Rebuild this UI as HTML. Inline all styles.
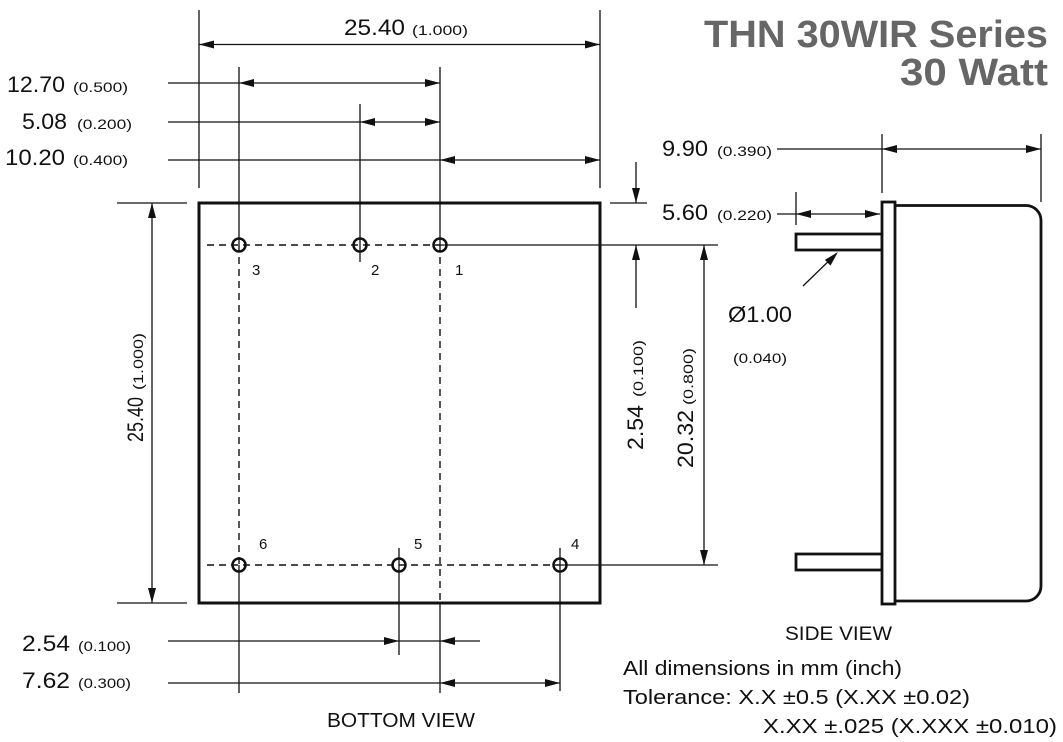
<!DOCTYPE html>
<html>
<head>
<meta charset="utf-8">
<style>
html,body{margin:0;padding:0;background:#fff;}
svg{display:block;}
text{font-family:"Liberation Sans",Arial,sans-serif;fill:#111;}
</style>
</head>
<body>
<svg width="1063" height="742" viewBox="0 0 1063 742" xmlns="http://www.w3.org/2000/svg">
<g stroke="#111" stroke-width="1.3" fill="none">
  <!-- top extension lines -->
  <line x1="199" y1="10" x2="199" y2="188"/>
  <line x1="600" y1="10" x2="600" y2="188"/>
  <!-- 25.40 top -->
  <line x1="199" y1="44.5" x2="600" y2="44.5"/>
  <!-- pin vertical lines top -->
  <line x1="239" y1="67" x2="239" y2="245"/>
  <line x1="360" y1="104" x2="360" y2="262"/>
  <line x1="440" y1="67" x2="440" y2="245"/>
  <!-- horizontal dims -->
  <line x1="168" y1="83" x2="440" y2="83"/>
  <line x1="168" y1="122" x2="440" y2="122"/>
  <line x1="168" y1="160" x2="600" y2="160"/>
  <!-- left dim -->
  <line x1="117" y1="203" x2="187" y2="203"/>
  <line x1="117" y1="603" x2="187" y2="603"/>
  <line x1="152" y1="203" x2="152" y2="603"/>
  <!-- dashed lines -->
  <g stroke-dasharray="7,5" stroke-width="1.4">
    <line x1="207" y1="245" x2="440" y2="245"/>
    <line x1="207" y1="565" x2="560" y2="565"/>
    <line x1="239" y1="245" x2="239" y2="565"/>
    <line x1="440" y1="245" x2="440" y2="603"/>
  </g>
  <!-- solid continuation lines -->
  <line x1="440" y1="245" x2="718" y2="245"/>
  <line x1="560" y1="565" x2="718" y2="565"/>
  <line x1="239" y1="565" x2="239" y2="693"/>
  <line x1="440" y1="603" x2="440" y2="693"/>
  <line x1="399" y1="548" x2="399" y2="655"/>
  <line x1="560" y1="548" x2="560" y2="691"/>
  <!-- bottom dims -->
  <line x1="168" y1="641" x2="480" y2="641"/>
  <line x1="168" y1="683" x2="560" y2="683"/>
  <!-- right dims -->
  <line x1="610" y1="203" x2="647" y2="203"/>
  <line x1="636" y1="162" x2="636" y2="203"/>
  <line x1="636" y1="245" x2="636" y2="308"/>
  <line x1="704" y1="245" x2="704" y2="565"/>
  <!-- side view dims -->
  <line x1="882" y1="134" x2="882" y2="193"/>
  <line x1="1041" y1="134" x2="1041" y2="202"/>
  <line x1="777" y1="149" x2="1041" y2="149"/>
  <line x1="796" y1="192" x2="796" y2="225"/>
  <line x1="777" y1="214" x2="880" y2="214"/>
  <line x1="803" y1="286" x2="836" y2="254"/>
</g>

<!-- main rect -->
<rect x="199" y="203" width="401" height="400" fill="none" stroke="#111" stroke-width="3"/>

<!-- pin circles -->
<g fill="none" stroke="#111" stroke-width="2.5">
  <circle cx="239" cy="245" r="6.5"/>
  <circle cx="360" cy="245" r="6.5"/>
  <circle cx="440" cy="245" r="6.5"/>
  <circle cx="239" cy="565" r="6.5"/>
  <circle cx="399" cy="565" r="6.5"/>
  <circle cx="560" cy="565" r="6.5"/>
</g>

<!-- side view -->
<g fill="#fff" stroke="#111" stroke-width="2.8">
  <path d="M895,205.5 H1026 A15,15 0 0 1 1041,220.5 V586 A15,15 0 0 1 1026,601 H895" fill="none"/>
  <rect x="796" y="234" width="86" height="16"/>
  <rect x="796" y="554" width="86" height="16"/>
  <rect x="882" y="202" width="13" height="402"/>
</g>

<!-- arrowheads -->
<g fill="#111" stroke="none">
  <polygon points="199,44.5 214,40.5 214,48.5"/>
  <polygon points="600,44.5 585,40.5 585,48.5"/>
  <polygon points="239,83 254,79 254,87"/>
  <polygon points="440,83 425,79 425,87"/>
  <polygon points="360,122 375,118 375,126"/>
  <polygon points="440,122 425,118 425,126"/>
  <polygon points="440,160 455,156 455,164"/>
  <polygon points="600,160 585,156 585,164"/>
  <polygon points="152,203 148,218 156,218"/>
  <polygon points="152,603 148,588 156,588"/>
  <polygon points="636,203 632,188 640,188"/>
  <polygon points="636,245 632,260 640,260"/>
  <polygon points="704,245 700,260 708,260"/>
  <polygon points="704,565 700,550 708,550"/>
  <polygon points="882,149 897,145 897,153"/>
  <polygon points="1041,149 1026,145 1026,153"/>
  <polygon points="796,214 811,210 811,218"/>
  <polygon points="880,214 865,210 865,218"/>
  <polygon points="838,252 830.5,265.6 824.9,259.9"/>
  <polygon points="399,641 384,637 384,645"/>
  <polygon points="440,641 455,637 455,645"/>
  <polygon points="440,683 455,679 455,687"/>
  <polygon points="560,683 545,679 545,687"/>
</g>

<!-- title -->
<text x="704" y="47" font-size="38" font-weight="bold" style="fill:#666" textLength="344" lengthAdjust="spacingAndGlyphs">THN 30WIR Series</text>
<text x="900" y="85" font-size="38" font-weight="bold" style="fill:#666" textLength="148" lengthAdjust="spacingAndGlyphs">30 Watt</text>

<!-- top labels -->
<text x="344" y="35" font-size="22" textLength="61" lengthAdjust="spacingAndGlyphs">25.40</text>
<text x="412" y="35" font-size="14" textLength="56" lengthAdjust="spacingAndGlyphs">(1.000)</text>

<text x="7" y="92" font-size="22" textLength="58" lengthAdjust="spacingAndGlyphs">12.70</text>
<text x="73" y="92" font-size="14" textLength="55" lengthAdjust="spacingAndGlyphs">(0.500)</text>
<text x="22" y="129" font-size="22" textLength="45" lengthAdjust="spacingAndGlyphs">5.08</text>
<text x="77" y="129" font-size="14" textLength="55" lengthAdjust="spacingAndGlyphs">(0.200)</text>
<text x="5" y="165" font-size="22" textLength="60" lengthAdjust="spacingAndGlyphs">10.20</text>
<text x="73" y="165" font-size="14" textLength="55" lengthAdjust="spacingAndGlyphs">(0.400)</text>

<!-- pin numbers -->
<text x="252" y="275" font-size="15">3</text>
<text x="371" y="275" font-size="15">2</text>
<text x="455" y="275" font-size="15">1</text>
<text x="259" y="549" font-size="15">6</text>
<text x="414" y="549" font-size="15">5</text>
<text x="571" y="549" font-size="15">4</text>

<!-- rotated left -->
<text transform="translate(143,442) rotate(-90)" font-size="22" textLength="45" lengthAdjust="spacingAndGlyphs">25.40</text>
<text transform="translate(143,390) rotate(-90)" font-size="14" textLength="57" lengthAdjust="spacingAndGlyphs">(1.000)</text>

<!-- rotated right -->
<text transform="translate(643,450) rotate(-90)" font-size="22" textLength="45" lengthAdjust="spacingAndGlyphs">2.54</text>
<text transform="translate(643,397) rotate(-90)" font-size="14" textLength="57" lengthAdjust="spacingAndGlyphs">(0.100)</text>
<text transform="translate(693,468) rotate(-90)" font-size="22" textLength="58" lengthAdjust="spacingAndGlyphs">20.32</text>
<text transform="translate(693,405) rotate(-90)" font-size="14" textLength="57" lengthAdjust="spacingAndGlyphs">(0.800)</text>

<!-- side labels -->
<text x="662" y="156" font-size="22" textLength="46" lengthAdjust="spacingAndGlyphs">9.90</text>
<text x="717" y="156" font-size="14" textLength="55" lengthAdjust="spacingAndGlyphs">(0.390)</text>
<text x="662" y="220" font-size="22" textLength="46" lengthAdjust="spacingAndGlyphs">5.60</text>
<text x="717" y="220" font-size="14" textLength="55" lengthAdjust="spacingAndGlyphs">(0.220)</text>
<text x="728" y="322" font-size="22" textLength="64" lengthAdjust="spacingAndGlyphs">Ø1.00</text>
<text x="733" y="363" font-size="14" textLength="54" lengthAdjust="spacingAndGlyphs">(0.040)</text>

<!-- bottom labels -->
<text x="22" y="651" font-size="22" textLength="48" lengthAdjust="spacingAndGlyphs">2.54</text>
<text x="78" y="651" font-size="14" textLength="53" lengthAdjust="spacingAndGlyphs">(0.100)</text>
<text x="22" y="688" font-size="22" textLength="48" lengthAdjust="spacingAndGlyphs">7.62</text>
<text x="78" y="688" font-size="14" textLength="53" lengthAdjust="spacingAndGlyphs">(0.300)</text>
<text x="327" y="727" font-size="20" textLength="148" lengthAdjust="spacingAndGlyphs">BOTTOM VIEW</text>

<text x="785" y="640" font-size="19" textLength="107" lengthAdjust="spacingAndGlyphs">SIDE VIEW</text>
<text x="623" y="675" font-size="20" textLength="279" lengthAdjust="spacingAndGlyphs">All dimensions in mm (inch)</text>
<text x="623" y="704" font-size="20" textLength="347" lengthAdjust="spacingAndGlyphs">Tolerance: X.X ±0.5 (X.XX ±0.02)</text>
<text x="763" y="733" font-size="20" textLength="294" lengthAdjust="spacingAndGlyphs">X.XX ±.025 (X.XXX ±0.010)</text>
</svg>
</body>
</html>
